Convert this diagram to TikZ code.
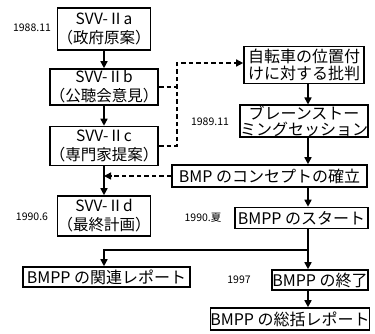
\documentclass[tikz,border=0pt]{standalone}
\usepackage{fontspec}
\setmainfont{Noto Sans CJK JP}
\usetikzlibrary{arrows.meta}
\begin{document}
\begin{tikzpicture}[x=1pt,y=-1pt,
  box/.style={draw,line width=1.6pt,inner sep=0pt,align=center,font=\fontsize{16}{17.5}\selectfont},
  svv/.style={box,font=\fontsize{15.5}{19}\selectfont},
  datelbl/.style={font=\fontsize{10.5}{12}\selectfont,inner sep=0pt},
  conn/.style={line width=1.6pt,-{Triangle[length=7pt,width=7pt]}},
  dconn/.style={line width=1.4pt,dash pattern=on 4.5pt off 3pt}]
\useasboundingbox (0,0) rectangle (375,333);
% left column
\node[svv,minimum width=86pt,minimum height=42pt] (A) at (104,29) {SVV-Ⅱa\\（政府原案）};
\node[svv,minimum width=102pt,minimum height=36pt] (B) at (104,87) {SVV-Ⅱb\\（公聴会意見）};
\node[svv,minimum width=102pt,minimum height=39pt] (C) at (104,146) {SVV-Ⅱc\\（専門家提案）};
\node[svv,minimum width=88pt,minimum height=40pt] (D) at (104,216) {SVV-Ⅱd\\（最終計画）};
\node[box,minimum width=167pt,minimum height=20pt] (L) at (106.5,277) {BMPP の関連レポート};
% right column
\node[box,minimum width=120pt,minimum height=37pt] (R1) at (304,65) {自転車の位置付\\けに対する批判};
\node[box,minimum width=118pt,minimum height=31pt,font=\fontsize{16}{16.5}\selectfont] (R2) at (304,121) {ブレーンストー\\ミングセッション};
\node[box,minimum width=195pt,minimum height=22pt] (R3) at (269.5,176) {BMP のコンセプトの確立};
\node[box,minimum width=133pt,minimum height=21pt] (R4) at (301.5,218) {BMPP のスタート};
\node[box,minimum width=96pt,minimum height=20pt] (R5) at (320,280) {BMPP の終了};
\node[box,minimum width=156pt,minimum height=22pt] (R6) at (290,319) {BMPP の総括レポート};
% dates
\node[datelbl] (d1) at (32,28) {1988.11};
\node[datelbl] (d2) at (210,122) {1989.11};
\node[datelbl] (d3) at (32,217) {1990.6};
\node[datelbl] (d4) at (203,218) {1990.夏};
\node[datelbl] (d5) at (239,280) {1997};
% helper coordinates
\coordinate (ax) at (308,0);
\coordinate (dk) at (177,63);
\coordinate (j) at (308,250);
% left connectors
\draw[conn] (A) -- (B);
\draw[conn] (B) -- (C);
\draw[conn] (C) -- (D);
\draw[dconn] (B.east) -- (B.east -| dk);
\draw[dconn,-{Triangle[length=7pt,width=7pt]}] (C.east) -| (dk) -- (dk -| R1.west);
\draw[dconn,-{Triangle[length=7pt,width=7pt]}] (R3.west) -- (R3.west -| C.south);
% right connectors
\draw[conn] (R1.south -| ax) -- (R2.north -| ax);
\draw[conn] (R2.south -| ax) -- (R3.north -| ax);
\draw[conn] (R3.south -| ax) -- (R4.north -| ax);
\draw[conn] (R4.south -| ax) -- (R5.north -| ax);
\draw[conn] (R5.south -| ax) -- (R6.north -| ax);
\draw[conn] (j) -| (L.north -| D.south);
\end{tikzpicture}
\end{document}
